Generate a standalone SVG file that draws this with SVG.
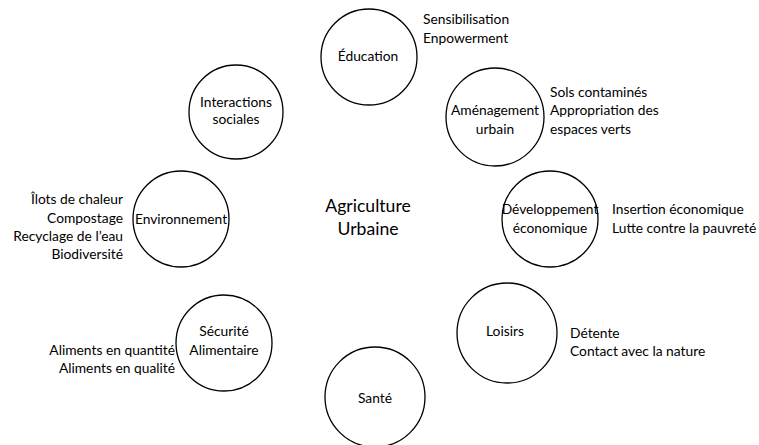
<svg xmlns="http://www.w3.org/2000/svg" width="759" height="445" viewBox="0 0 759 445">
<style>
.c{fill:#fff;stroke:#000;stroke-width:1.3}
text{font-family:Lato,"Open Sans",sans-serif;font-size:13.8px;fill:#000}
.m{text-anchor:middle}
.e{text-anchor:end}
.big{font-size:17.6px}
</style>
<rect width="759" height="445" fill="#fff"/>
<g id="connectors"></g>
<g id="center"><text class="m big" x="368" y="212">Agriculture</text><text class="m big" x="368" y="235">Urbaine</text></g>
<g id="education"><circle class="c" cx="369" cy="57" r="48"/><text class="m" x="368" y="61">Éducation</text>
<text x="423" y="24">Sensibilisation</text><text x="423" y="43">Enpowerment</text></g>
<g id="interactions"><circle class="c" cx="236" cy="112" r="47"/><text class="m" x="236" y="107">Interactions</text><text class="m" x="236" y="124">sociales</text></g>
<g id="amenagement"><circle class="c" cx="495" cy="117" r="49"/><text class="m" x="495" y="115">Aménagement</text><text class="m" x="495" y="134">urbain</text>
<text x="550" y="97">Sols contaminés</text><text x="550" y="115">Appropriation des</text><text x="550" y="134">espaces verts</text></g>
<g id="environnement"><circle class="c" cx="181" cy="219" r="48"/><text class="m" x="181" y="224">Environnement</text>
<text class="e" x="123" y="204">Îlots de chaleur</text><text class="e" x="123" y="223">Compostage</text><text class="e" x="123" y="241">Recyclage de l’eau</text><text class="e" x="123" y="259">Biodiversité</text></g>
<g id="developpement"><circle class="c" cx="550" cy="219" r="48"/><text class="m" x="550" y="214">Développement</text><text class="m" x="550" y="233">économique</text>
<text x="612" y="214">Insertion économique</text><text x="612" y="233">Lutte contre la pauvreté</text></g>
<g id="securite"><circle class="c" cx="224" cy="343" r="48"/><text class="m" x="224" y="336">Sécurité</text><text class="m" x="224" y="355">Alimentaire</text>
<text class="e" x="175" y="355">Aliments en quantité</text><text class="e" x="175" y="373">Aliments en qualité</text></g>
<g id="loisirs"><circle class="c" cx="507" cy="333" r="50"/><text class="m" x="505" y="336">Loisirs</text>
<text x="570" y="338">Détente</text><text x="570" y="356">Contact avec la nature</text></g>
<g id="sante"><circle class="c" cx="375" cy="397" r="50"/><text class="m" x="375" y="403">Santé</text></g>
</svg>
